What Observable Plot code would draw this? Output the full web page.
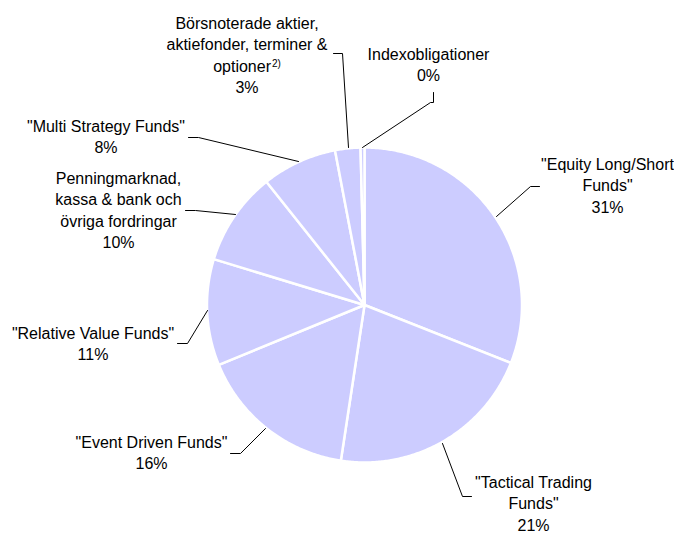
<!DOCTYPE html>
<html><head><meta charset="utf-8">
<script src="https://cdn.jsdelivr.net/npm/d3@7"></script>
<script src="https://cdn.jsdelivr.net/npm/@observablehq/plot@0.6"></script>
<style>html,body{margin:0;padding:0;background:#fff}svg{display:block}</style>
</head><body><div id="chart"></div>
<script>
// ---- data ----
const categories = [
  "\"Equity Long/Short\nFunds\"",
  "\"Tactical Trading\nFunds\"",
  "\"Event Driven Funds\"",
  "\"Relative Value Funds\"",
  "Penningmarknad,\nkassa & bank och\növriga fordringar",
  "\"Multi Strategy Funds\"",
  "Börsnoterade aktier,\naktiefonder, terminer &\noptioner",
  "Indexobligationer"
];
const shares = [31, 21.4, 16.4, 10.9, 9.6, 7.7, 2.6, 0.4];
const pctLabels = ["31%", "21%", "16%", "11%", "10%", "8%", "3%", "0%"];
const footnotes = ["", "", "", "", "", "", "2)", ""];

// ---- layout (pixels) ----
const W = 674, H = 533;
const cx = 364, cy = 304.5, R = 157.5;
const FONT = 16, NOTE_FONT = 10, LH = 21.5;
const FAMILY = "'Liberation Sans', Arial, sans-serif";
const labelPos = [
  {x: 607, base: 169, leader: [[496, 216], [530, 186], [539, 186]]},
  {x: 533, base: 487, leader: [[442, 443], [462, 496], [471, 496]]},
  {x: 151, base: 447, leader: [[265, 428], [240, 453], [230, 453]]},
  {x: 92.5, base: 338, leader: [[207, 310], [187, 343], [177, 343]]},
  {x: 118, base: 183, leader: [[235, 214], [195, 210], [185, 210]]},
  {x: 105.5, base: 131, leader: [[298, 161], [198, 137], [188, 137]]},
  {x: 246.5, base: 28, leader: [[348, 147], [342, 53], [333, 53]]},
  {x: 428, base: 59, leader: [[362, 147], [430, 102], [433, 102], [433, 92]]}
];

// ---- geometry from data ----
const arcs = d3.pie().sort(null).value(d => d)(shares);
const slicePts = [];
arcs.forEach((a, i) => {
  const steps = Math.max(2, Math.ceil((a.endAngle - a.startAngle) / (Math.PI / 360)));
  slicePts.push({i, x: cx, y: cy});
  for (let s = 0; s <= steps; s++) {
    const t = a.startAngle + (a.endAngle - a.startAngle) * s / steps;
    slicePts.push({i, x: cx + R * Math.sin(t), y: cy - R * Math.cos(t)});
  }
  slicePts.push({i, x: cx, y: cy});
});

const leaderPts = [];
labelPos.forEach((p, i) => p.leader.forEach(([x, y]) => leaderPts.push({i, x, y})));

// text measurement for footnote placement
const ctx = document.createElement("canvas").getContext("2d");
function textWidth(s, size) { ctx.font = `${size}px ${FAMILY}`; return ctx.measureText(s).width; }

const lineData = [];
const noteData = [];
categories.forEach((c, i) => {
  const lines = c.split("\n").concat([pctLabels[i]]);
  const catCount = lines.length - 1;
  lines.forEach((t, j) => {
    const y = labelPos[i].base + j * LH;
    let x = labelPos[i].x;
    if (j === catCount - 1 && footnotes[i]) {
      const w1 = textWidth(t, FONT), w2 = textWidth(footnotes[i], NOTE_FONT);
      const start = x - (w1 + 1 + w2) / 2;
      x = start + w1 / 2;
      noteData.push({text: footnotes[i], x: start + w1 + 1, y: y - 5});
    }
    lineData.push({text: t, x, y});
  });
});

const chart = Plot.plot({
  width: W, height: H,
  margin: 0,
  x: {type: "identity", axis: null},
  y: {type: "identity", axis: null},
  style: {fontFamily: FAMILY, background: "#fff", overflow: "visible"},
  marks: [
    Plot.line(slicePts, {x: "x", y: "y", z: "i", fill: "#ccccff", stroke: "#fff", strokeWidth: 2.5, strokeLinejoin: "round", curve: "linear"}),
    Plot.line(leaderPts, {x: "x", y: "y", z: "i", stroke: "#000", strokeWidth: 1, curve: "linear"}),
    Plot.text(lineData, {x: "x", y: "y", text: "text", fontSize: FONT, fill: "#000", textAnchor: "middle", lineAnchor: "bottom"}),
    Plot.text(noteData, {x: "x", y: "y", text: "text", fontSize: NOTE_FONT, fill: "#000", textAnchor: "start", lineAnchor: "bottom"})
  ]
});
document.getElementById("chart").appendChild(chart);
</script>
</body></html>
